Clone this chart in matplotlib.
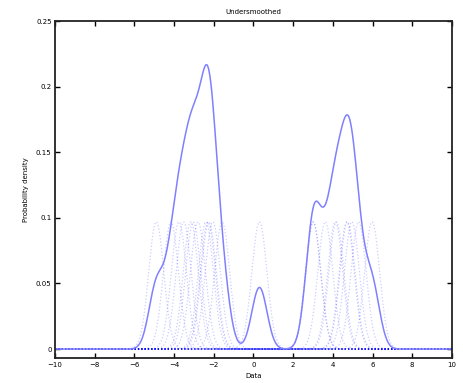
import numpy as np
import matplotlib.pyplot as plt

# data points, kernel width and heights
data = [-4.90, -4.16, -3.76, -3.52, -3.16, -3.04, -2.80, -2.40, -2.30, -2.25, -2.05, -1.58,
        0.30,
        3.00, 3.02, 3.62, 4.12, 4.18, 4.70, 4.74, 4.96, 5.30, 5.98]
bandwidth = 0.38
kernel_peak = 0.097
density_unit = 0.047

x = np.linspace(-10, 10, 401)
kernels = [kernel_peak * np.exp(-(x - d) ** 2 / (2 * bandwidth ** 2)) for d in data]
density = np.sum(kernels, axis=0) * density_unit / kernel_peak

fig = plt.figure(figsize=(4.63, 3.83), dpi=100)
ax = fig.add_axes([0.119, 0.065, 0.857, 0.880])

for k in kernels:
    ax.plot(x, k, ls=':', lw=0.9, c='b', alpha=0.2)
ax.plot(x, density, lw=1.1, c='#8080ff')

ax.set_xlim(-10, 10)
ax.set_ylim(-0.0069, 0.25)
ax.set_xticks(np.arange(-10, 11, 2))
ax.set_yticks([0, 0.05, 0.1, 0.15, 0.2, 0.25])
ax.set_yticklabels(['0', '0.05', '0.1', '0.15', '0.2', '0.25'])
ax.tick_params(direction='in', length=3.5, width=1.0, labelsize=5, top=True, right=True, pad=2.5)
for sp in ax.spines.values():
    sp.set_linewidth(1.3)
    sp.set_color('#222222')

ax.set_title('Undersmoothed', fontsize=5, pad=5)
ax.set_xlabel('Data', fontsize=5, labelpad=4)
ax.set_ylabel('Probability density', fontsize=5, labelpad=5)

plt.savefig('out.png')
